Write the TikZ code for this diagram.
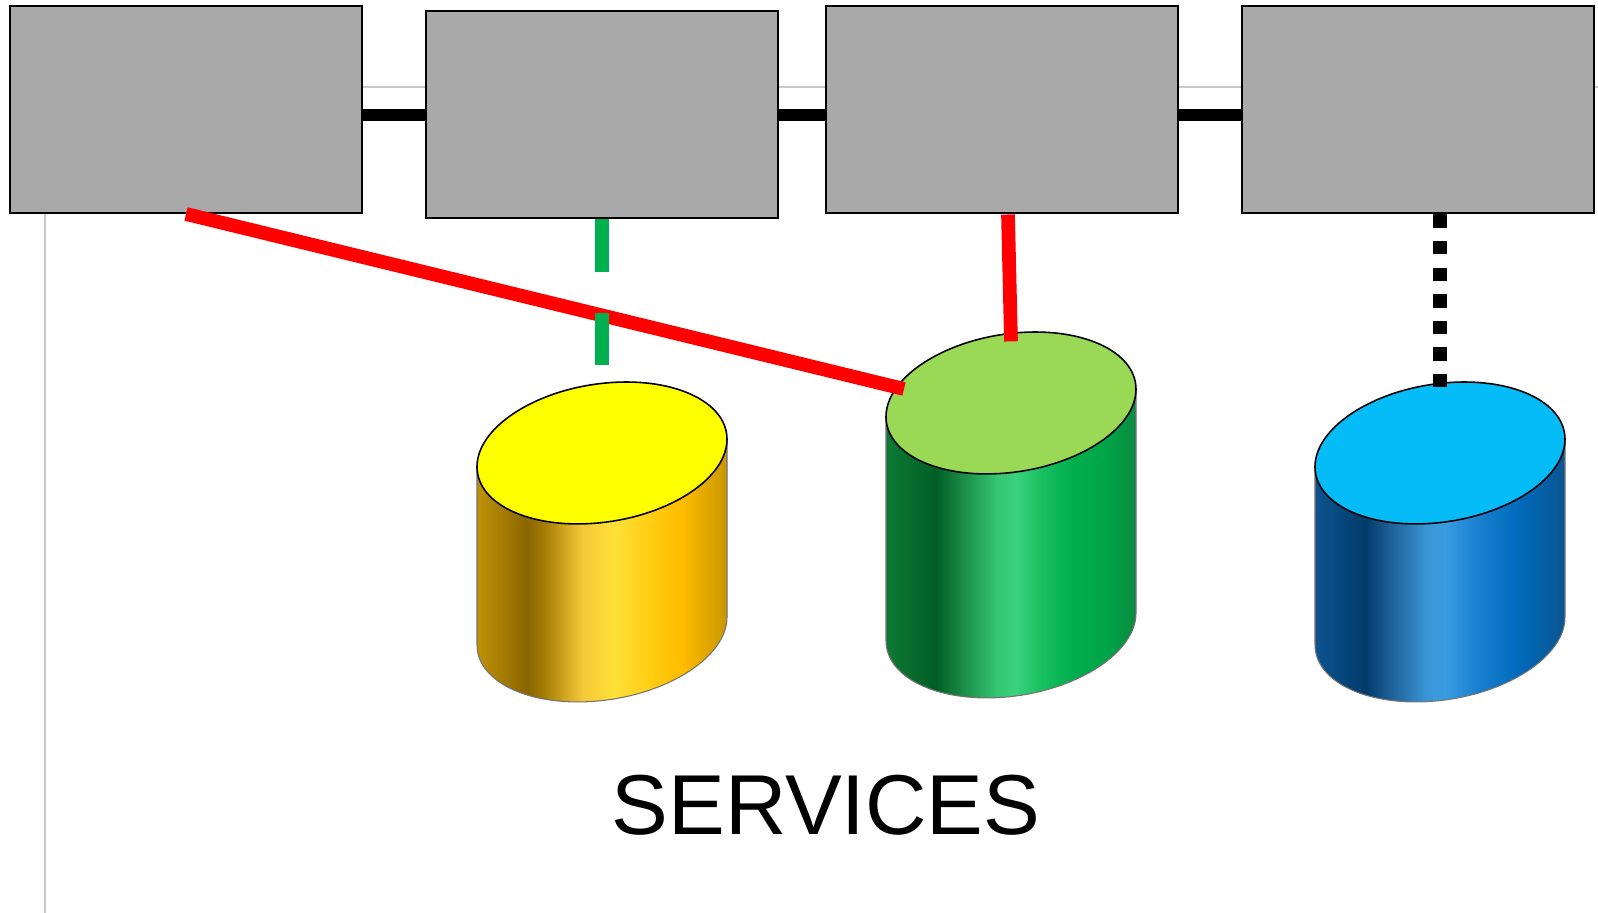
\documentclass[tikz,border=0pt]{standalone}
\usepackage{fontspec}
\setmainfont{Liberation Sans}
\usetikzlibrary{calc}

% side colours of the drums, left to right
\definecolor{goldA}{HTML}{BF9206}
\definecolor{goldB}{HTML}{8A6500}
\definecolor{goldC}{HTML}{A57D05}
\definecolor{goldD}{HTML}{F5C838}
\definecolor{goldE}{HTML}{FFE038}
\definecolor{goldF}{HTML}{FFCC10}
\definecolor{goldG}{HTML}{FFBC00}
\definecolor{goldH}{HTML}{C89600}
\definecolor{grnA}{HTML}{0F7A35}
\definecolor{grnB}{HTML}{005E25}
\definecolor{grnC}{HTML}{1A8A45}
\definecolor{grnD}{HTML}{35C874}
\definecolor{grnE}{HTML}{3AD27E}
\definecolor{grnF}{HTML}{18C060}
\definecolor{grnG}{HTML}{00AD4C}
\definecolor{grnH}{HTML}{00A548}
\definecolor{grnI}{HTML}{0A8A40}
\definecolor{bluA}{HTML}{0E5490}
\definecolor{bluB}{HTML}{003A6A}
\definecolor{bluC}{HTML}{1E5F95}
\definecolor{bluD}{HTML}{3A96D8}
\definecolor{bluE}{HTML}{3A9BE0}
\definecolor{bluF}{HTML}{1A80D0}
\definecolor{bluG}{HTML}{006CBD}
\definecolor{bluH}{HTML}{0A5590}
% tops and lines
\definecolor{topyel}{HTML}{FFFF00}
\definecolor{topgrn}{HTML}{99D955}
\definecolor{topblu}{HTML}{05BBF8}
\definecolor{boxgray}{HTML}{A9A9A9}
\definecolor{framegray}{HTML}{C8C8C8}
\definecolor{linkgrn}{HTML}{00B050}

\pgfdeclarehorizontalshading{goldside}{100bp}{color(0bp)=(goldA); color(25bp)=(goldA);
  color(35bp)=(goldB); color(38.5bp)=(goldC); color(46bp)=(goldD); color(52.5bp)=(goldE);
  color(60bp)=(goldF); color(66bp)=(goldG); color(75bp)=(goldH); color(100bp)=(goldH)}
\pgfdeclarehorizontalshading{grnside}{100bp}{color(0bp)=(grnA); color(25bp)=(grnA);
  color(35bp)=(grnB); color(40bp)=(grnC); color(47.5bp)=(grnD); color(51bp)=(grnE);
  color(56bp)=(grnF); color(62.5bp)=(grnG); color(69bp)=(grnH); color(75bp)=(grnI);
  color(100bp)=(grnI)}
\pgfdeclarehorizontalshading{bluside}{100bp}{color(0bp)=(bluA); color(25bp)=(bluA);
  color(35bp)=(bluB); color(40bp)=(bluC); color(47.5bp)=(bluD); color(51bp)=(bluE);
  color(57.5bp)=(bluF); color(65bp)=(bluG); color(75bp)=(bluH); color(100bp)=(bluH)}

\tikzset{block/.style={draw,fill=boxgray,line width=0.57pt,inner sep=0pt,
           minimum width=3.52cm,minimum height=2.07cm},
         bus/.style={line width=3.56pt},
         redlink/.style={red,line width=3.9pt},
         grnlink/.style={linkgrn,line width=3.8pt,dash pattern=on 0.527cm off 0.406cm},
         dotlink/.style={line width=3.8pt,dash pattern=on 0.133cm off 0.133cm}}

% drum: centre of top, height, side shading, top colour, name of top point
\newcommand{\drum}[5]{%
  \begin{scope}[shift={#1},cm={1,0.11,0,1,(0,0)}]
    \shadedraw[shading=#3,draw=black!55,line width=0.3pt]
      (-1.25,0) -- (-1.25,-#2)
      arc[start angle=180,end angle=360,x radius=1.25,y radius=0.696]
      -- (1.25,0) -- cycle;
    \draw[fill=#4,line width=0.45pt] (0,0) ellipse[x radius=1.25,y radius=0.696];
    \coordinate (#5) at (0,0.696);
  \end{scope}}

\begin{document}
\begin{tikzpicture}
\useasboundingbox (0,0) rectangle (15.98,9.13);

% frame lines behind everything
\draw[framegray,line width=0.6pt] (0.45,0) -- (0.45,8.26) -- (15.98,8.26);

\node[block] (box1) at (1.86,8.035) {};
\node[block] (box2) at (6.02,7.98) {};
\node[block] (box3) at (10.02,8.03) {};
\node[block] (box4) at (14.18,8.03) {};

\draw[bus] (box1.east |- box2.west) -- (box2.west);
\draw[bus] (box2.east) -- (box3.west |- box2.east);
\draw[bus] (box3.east |- box2.east) -- (box4.west |- box2.east);

\drum{(6.02,4.60)}{1.78}{goldside}{topyel}{ytop}
\drum{(10.11,5.10)}{2.24}{grnside}{topgrn}{gtop}
\drum{(14.40,4.60)}{1.78}{bluside}{topblu}{btop}

\coordinate (gleft) at (9.04,5.24);
\coordinate (gmid) at ($(gtop)+(0,-0.08)$);
\coordinate (bmid) at ($(btop)+(0,-0.04)$);

\draw[redlink] (box1.south) -- (gleft);
\draw[redlink] ($(box3.south)+(0.06,0)$) -- (gmid);
\draw[grnlink] (box2.south) -- (ytop);
\draw[dotlink] (bmid |- box4.south) -- (bmid);

\node[anchor=base,font=\fontsize{24.2}{30}\selectfont] (label) at (8.26,0.78) {SERVICES};
\end{tikzpicture}
\end{document}
